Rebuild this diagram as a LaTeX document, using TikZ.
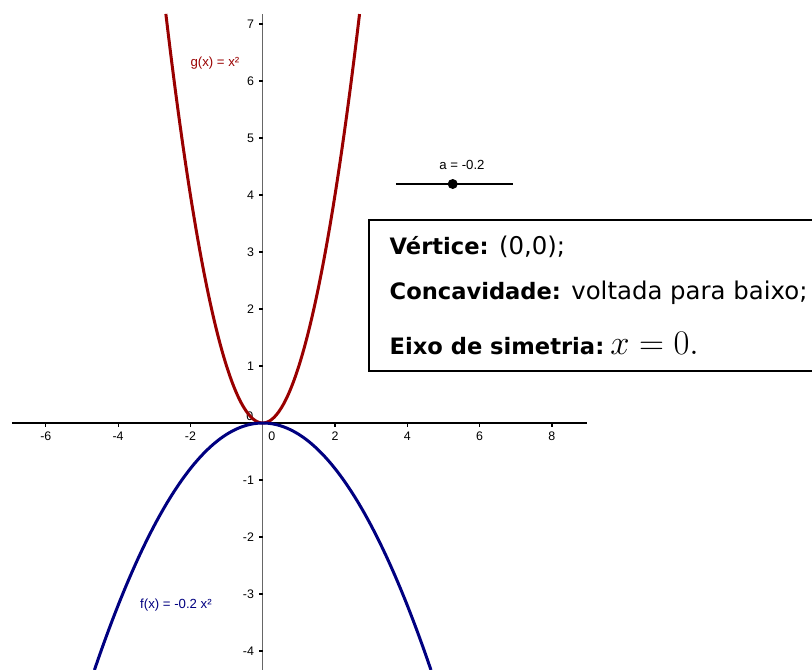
\documentclass[tikz,border=0pt]{standalone}
\usepackage[no-math]{fontspec}
\setmainfont{DejaVu Sans}
\newfontfamily\ggbfont{Liberation Sans}
\usetikzlibrary{positioning}
\definecolor{ggbRed}{RGB}{153,0,0}
\definecolor{ggbBlue}{RGB}{0,0,128}
\newcommand{\infobold}[1]{{\fontsize{11.3}{13}\selectfont\textbf{#1}}}

\begin{document}
\begin{tikzpicture}[x=18.075pt,y=28.5pt,
    axislbl/.style={font=\ggbfont\fontsize{6.2}{7}\selectfont,inner sep=0pt},
    funclbl/.style={font=\ggbfont\fontsize{6.6}{8}\selectfont,inner sep=0pt},
    infoline/.style={anchor=base west,inner sep=0pt,font=\fontsize{12.2}{14}\selectfont},
    curve/.style={line width=1.5pt,samples=90,smooth}
]
\useasboundingbox (-7.267,-4.333) rectangle (15.195,7.421);

% axes
\coordinate (xmin) at (-6.935,0);
\coordinate (xmax) at (8.97,0);
\coordinate (ytop) at (0,7.175);
\coordinate (ybot) at (0,-4.333);
\draw[line width=0.8pt] (xmin) -- (xmax);
\draw[line width=0.5pt,black!60] (ytop) -- (ybot);

\foreach \x [count=\i] in {-6,-4,-2,2,4,6,8}{
  \draw[line width=0.6pt] (\x,0) -- ++(0,-2pt);
  \node[axislbl] (xt\i) at ([yshift=-6.5pt]\x,0) {\x};
}
\foreach \y [count=\i] in {-4,-3,-2,-1,1,2,3,4,5,6,7}{
  \draw[line width=0.6pt] (0,\y) -- ++(-2pt,0);
  \node[axislbl,anchor=east] (yt\i) at ([xshift=-4.2pt]0,\y) {\y};
}
\node[axislbl] (xzero) at ([xshift=4.5pt,yshift=-6.5pt]0,0) {0};
\node[axislbl,anchor=east] (yzero) at ([xshift=-4.5pt,yshift=3.5pt]0,0) {0};

% graphs
\draw[ggbRed,curve,domain=-2.679:2.679] plot (\x,{\x*\x});
\draw[ggbBlue,curve,domain=-4.655:4.655] plot (\x,{-0.2*\x*\x});
\node[funclbl,text=ggbRed] (glbl) at (-1.32,6.316) {g(x) = x²};
\node[funclbl,text=ggbBlue] (flbl) at (-2.40,-3.193) {f(x) = -0.2 x²};

% slider
\coordinate (sliderL) at (3.685,4.193);
\coordinate (sliderR) at (6.92,4.193);
\draw[line width=1.1pt] (sliderL) -- (sliderR);
\node[circle,fill=black,inner sep=0pt,minimum size=5pt] (knob) at (5.256,4.193) {};
\node[funclbl] (slidertxt) at (5.513,4.526) {a = -0.2};

% info box
\coordinate (boxNW) at (2.94,3.561);
\coordinate (boxSE) at (15.4,0.912);
\draw[line width=1pt] (boxNW) rectangle (boxSE);
\node[infoline] (vertice) at (3.502,2.96) {\infobold{Vértice:} (0,0);};
\node[infoline] (concav) at (3.502,2.163) {\infobold{Concavidade:} voltada para baixo;};
\node[infoline] (eixo) at (3.502,1.205) {\infobold{Eixo de simetria:}\hspace{3pt}{\fontsize{16}{18}\selectfont$x=0.$}};
\end{tikzpicture}
\end{document}
